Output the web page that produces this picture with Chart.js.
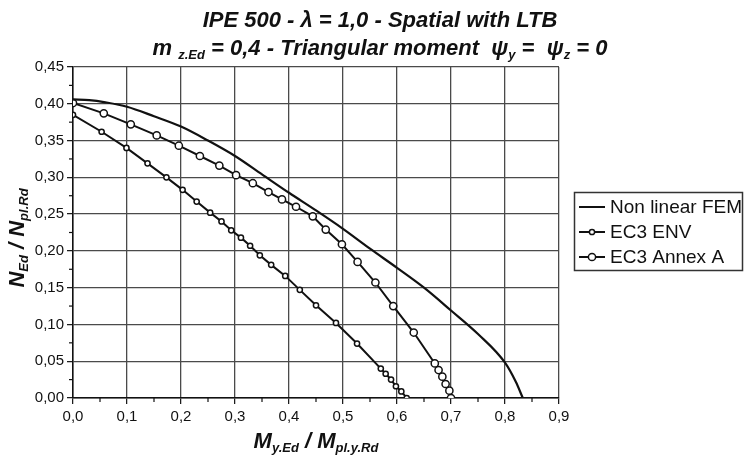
<!DOCTYPE html>
<html>
<head>
<meta charset="utf-8">
<script src="https://cdn.jsdelivr.net/npm/chart.js@4.4.1/dist/chart.umd.min.js"></script>
<style>
  html, body { margin: 0; padding: 0; background: #fff; }
  #wrap { width: 744px; height: 460px; position: relative; }
</style>
</head>
<body>
<div id="wrap"><canvas id="c" width="744" height="460"></canvas></div>
<script>
// ---- data ----
const femX = [0, 0.03, 0.06, 0.1, 0.15, 0.2, 0.25, 0.3, 0.35, 0.4, 0.45, 0.5, 0.55, 0.6, 0.65, 0.7, 0.75, 0.8, 0.82, 0.833];
const femY = [0.406, 0.405, 0.402, 0.396, 0.383, 0.369, 0.350, 0.329, 0.304, 0.279, 0.255, 0.230, 0.203, 0.177, 0.150, 0.119, 0.087, 0.048, 0.022, 0.000];

const envX = [0, 0.053, 0.099, 0.138, 0.173, 0.203, 0.229, 0.254, 0.275, 0.293, 0.311, 0.328, 0.346, 0.367, 0.393, 0.420, 0.450, 0.487, 0.526, 0.570, 0.579, 0.589, 0.598, 0.608, 0.618];
const envY = [0.385, 0.362, 0.340, 0.319, 0.300, 0.283, 0.267, 0.252, 0.240, 0.228, 0.218, 0.207, 0.194, 0.181, 0.166, 0.147, 0.126, 0.102, 0.074, 0.040, 0.033, 0.025, 0.016, 0.009, 0.000];

const annexX = [0, 0.057, 0.107, 0.155, 0.196, 0.235, 0.271, 0.302, 0.333, 0.362, 0.387, 0.413, 0.444, 0.468, 0.498, 0.527, 0.560, 0.593, 0.631, 0.670, 0.677, 0.684, 0.690, 0.697, 0.700];
const annexY = [0.401, 0.387, 0.372, 0.357, 0.343, 0.329, 0.316, 0.303, 0.292, 0.280, 0.270, 0.260, 0.247, 0.229, 0.209, 0.185, 0.157, 0.125, 0.089, 0.047, 0.038, 0.029, 0.019, 0.010, 0.000];

const seriesNames = ['Non linear FEM', 'EC3 ENV', 'EC3 Annex A'];
const xTickLabels = ['0,0', '0,1', '0,2', '0,3', '0,4', '0,5', '0,6', '0,7', '0,8', '0,9'];
const yTickLabels = ['0,00', '0,05', '0,10', '0,15', '0,20', '0,25', '0,30', '0,35', '0,40', '0,45'];

const titleLine1 = [{t: 'IPE 500 - \u03BB = 1,0 - Spatial with LTB'}];
const titleLine2 = [{t: 'm '}, {t: 'z.Ed', sub: true}, {t: ' = 0,4 - Triangular moment  \u03C8'}, {t: 'y', sub: true}, {t: ' =  \u03C8'}, {t: 'z', sub: true}, {t: ' = 0'}];
const yTitle = [{t: 'N'}, {t: 'Ed', sub: true}, {t: ' / N'}, {t: 'pl.Rd', sub: true}];
const xTitle = [{t: 'M'}, {t: 'y.Ed', sub: true}, {t: ' / M'}, {t: 'pl.y.Rd', sub: true}];

const zip = (xs, ys) => xs.map((x, i) => ({x: x, y: ys[i]}));

const FONT = '"Liberation Sans", Arial, sans-serif';
const MAIN = 'bold italic 22px ' + FONT;
const SUB = 'bold italic 13px ' + FONT;

function richWidth(ctx, segs, main, sub) {
  let w = 0;
  segs.forEach(s => { ctx.font = s.sub ? sub : main; w += ctx.measureText(s.t).width; });
  return w;
}
function drawRich(ctx, segs, cx, cy, rot, main, sub) {
  ctx.save();
  ctx.translate(cx, cy);
  ctx.rotate(rot);
  const w = richWidth(ctx, segs, main, sub);
  let x = -w / 2;
  ctx.fillStyle = '#111';
  ctx.textBaseline = 'alphabetic';
  ctx.textAlign = 'left';
  segs.forEach(s => {
    ctx.font = s.sub ? sub : main;
    ctx.fillText(s.t, x, s.sub ? 12 : 7.5);
    x += ctx.measureText(s.t).width;
  });
  ctx.restore();
}

const decor = {
  id: 'decor',
  afterDraw(chart) {
    const ctx = chart.ctx;
    const xs = chart.scales.x, ys = chart.scales.y;
    // minor ticks
    ctx.save();
    ctx.strokeStyle = '#111';
    ctx.lineWidth = 1.2;
    for (let i = 0; i < 9; i++) {
      const px = xs.getPixelForValue(i * 0.1 + 0.05);
      ctx.beginPath(); ctx.moveTo(px, ys.bottom); ctx.lineTo(px, ys.bottom + 4); ctx.stroke();
    }
    for (let i = 0; i < 9; i++) {
      const py = ys.getPixelForValue(i * 0.05 + 0.025);
      ctx.beginPath(); ctx.moveTo(xs.left, py); ctx.lineTo(xs.left - 4, py); ctx.stroke();
    }
    ctx.restore();

    // titles
    drawRich(ctx, titleLine1, 380, 19, 0, MAIN, SUB);
    drawRich(ctx, titleLine2, 380, 47, 0, MAIN, SUB);
    drawRich(ctx, yTitle, 16, 238, -Math.PI / 2, MAIN, SUB);
    drawRich(ctx, xTitle, (xs.left + xs.right) / 2, 440, 0, MAIN, SUB);

    // legend
    ctx.save();
    ctx.strokeStyle = '#333';
    ctx.lineWidth = 1.5;
    ctx.strokeRect(574.5, 192.5, 168, 78);
    const rows = [207, 232, 257];
    chart.data.datasets.forEach((ds, i) => {
      const y = rows[i];
      ctx.strokeStyle = '#111';
      ctx.lineWidth = 2;
      ctx.beginPath(); ctx.moveTo(579, y); ctx.lineTo(605, y); ctx.stroke();
      if (ds.pointRadius > 0) {
        ctx.beginPath();
        ctx.arc(592, y, ds.pointRadius, 0, Math.PI * 2);
        ctx.fillStyle = '#fff'; ctx.fill();
        ctx.lineWidth = 1.5; ctx.stroke();
      }
      ctx.fillStyle = '#111';
      ctx.font = '19px ' + FONT;
      ctx.textBaseline = 'middle';
      ctx.textAlign = 'left';
      ctx.fillText(ds.label, 610, y + 1);
    });
    ctx.restore();
  }
};

const gridColor = '#4a4a4a';

new Chart(document.getElementById('c'), {
  type: 'scatter',
  data: {
    datasets: [
      {
        label: seriesNames[0], data: zip(femX, femY), showLine: true,
        borderColor: '#111', borderWidth: 2.2, pointRadius: 0, pointHoverRadius: 0,
        tension: 0.4, cubicInterpolationMode: 'monotone', fill: false
      },
      {
        label: seriesNames[1], data: zip(envX, envY), showLine: true,
        borderColor: '#111', borderWidth: 2, pointRadius: 2.6, pointBorderWidth: 1.5,
        pointBackgroundColor: '#fff', pointBorderColor: '#111', tension: 0, fill: false
      },
      {
        label: seriesNames[2], data: zip(annexX, annexY), showLine: true,
        borderColor: '#111', borderWidth: 2, pointRadius: 3.6, pointBorderWidth: 1.5,
        pointBackgroundColor: '#fff', pointBorderColor: '#111', tension: 0, fill: false
      }
    ]
  },
  options: {
    responsive: false,
    animation: false,
    layout: { padding: { top: 67, right: 185, left: 0, bottom: 0 } },
    plugins: { legend: { display: false }, title: { display: false }, tooltip: { enabled: false } },
    scales: {
      x: {
        type: 'linear', min: 0, max: 0.9,
        ticks: {
          stepSize: 0.1, color: '#111', padding: 4,
          font: { family: FONT, size: 15 },
          callback: (v, i) => xTickLabels[i]
        },
        grid: { color: gridColor, lineWidth: 1.3, tickColor: '#111', tickLength: 6, tickWidth: 1.2 },
        border: { display: true, color: '#111', width: 1.5 },
        afterFit: s => { s.height = 62; }
      },
      y: {
        type: 'linear', min: 0, max: 0.45,
        ticks: {
          stepSize: 0.05, color: '#111', padding: 3,
          font: { family: FONT, size: 15 },
          callback: (v, i) => yTickLabels[i]
        },
        grid: { color: gridColor, lineWidth: 1.3, tickColor: '#111', tickLength: 6, tickWidth: 1.2 },
        border: { display: true, color: '#111', width: 1.5 },
        afterFit: s => { s.width = 73; }
      }
    }
  },
  plugins: [decor]
});
</script>
</body>
</html>
